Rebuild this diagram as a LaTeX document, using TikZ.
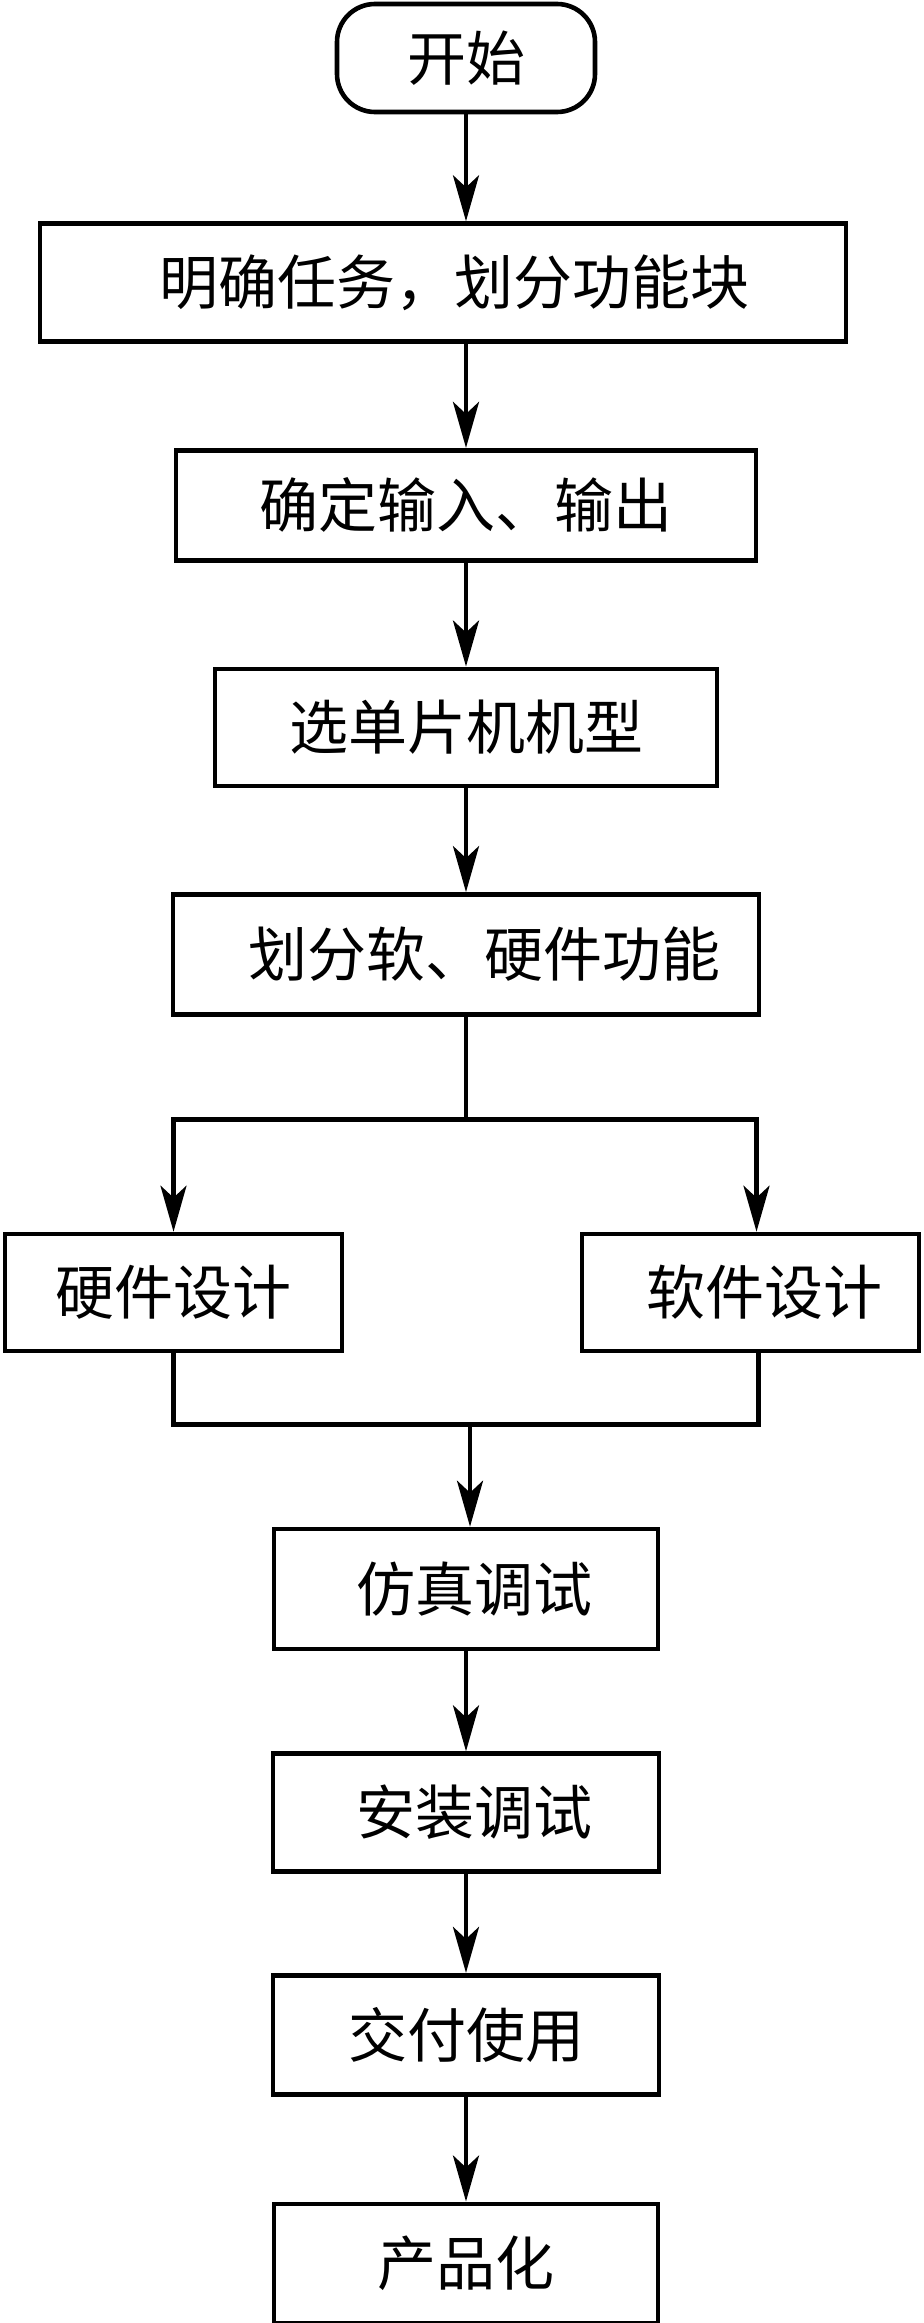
\documentclass[tikz,border=0pt]{standalone}
\usepackage{fontspec}
\newfontfamily\cjk{Noto Sans CJK SC}
\usepackage{tikz}
\usetikzlibrary{arrows.meta,positioning}

\begin{document}
\begin{tikzpicture}[
    x=1pt,y=1pt,
    stepbox/.style={draw,line width=2.3pt,minimum height=58pt,inner sep=0pt,
      font=\cjk\fontsize{29.5pt}{34pt}\selectfont},
    terminal/.style={stepbox,rounded corners=19pt},
    connector/.style={-{Stealth[length=23pt,width=13pt,inset=6pt]},line width=2.3pt},
    wire/.style={line width=2.3pt}
  ]
    \useasboundingbox (0,0) rectangle (461.5,-1161.5);
    % main column
    \node[terminal,minimum width=129pt,minimum height=54pt] (start) at (233,-29) {开始};
    \node[stepbox,below=53.5pt of start,xshift=-11.5pt,minimum width=403pt,minimum height=59pt] (task)
      {\hspace{11pt}明确任务，划分功能块};
    \node[stepbox,below=52pt of task,xshift=11.5pt,minimum width=290pt,minimum height=55pt] (io) {确定输入、输出};
    \node[stepbox,below=52pt of io,minimum width=251pt,minimum height=58.5pt] (chip) {选单片机机型};
    \node[stepbox,below=52pt of chip,minimum width=293pt,minimum height=60pt] (split)
      {\hspace{18pt}划分软、硬件功能};
    % two branches
    \node[stepbox,minimum width=168.5pt,minimum height=58.5pt] (hw) at (86.75,-646.25) {硬件设计};
    \node[stepbox,minimum width=168.5pt,minimum height=58.5pt] (sw) at (375.25,-646.25) {\hspace{14pt}软件设计};
    % after the merge
    \node[stepbox,below=255pt of split,minimum width=192pt,minimum height=60pt] (sim) {\hspace{8pt}仿真调试};
    \node[stepbox,below=50pt of sim,minimum width=193pt,minimum height=59pt] (inst) {\hspace{8pt}安装调试};
    \node[stepbox,below=49.5pt of inst,minimum width=193pt,minimum height=59.5pt] (use) {交付使用};
    \node[stepbox,below=52.5pt of use,minimum width=192pt,minimum height=59.5pt] (prod) {产品化};

    \path (split.south) ++(0,-51.5) coordinate (fork);
    \path (sim.north) ++(2,51) coordinate (join);

    \draw[connector] (start) -- (start |- task.north);
    \draw[connector] (task.south -| start) -- (io);
    \draw[connector] (io) -- (chip);
    \draw[connector] (chip) -- (split);
    \draw[wire] (split) -- (fork);
    \draw[connector] (fork) -| (hw);
    \draw[connector] (fork) -| ([xshift=3pt]sw.north);
    \draw[wire] (hw) |- (join);
    \draw[wire] ([xshift=4pt]sw.south) |- (join);
    \draw[connector] (join) -- (join |- sim.north);
    \draw[connector] (sim) -- (inst);
    \draw[connector] (inst) -- (use);
    \draw[connector] (use) -- (prod);
  \end{tikzpicture}
\end{document}
